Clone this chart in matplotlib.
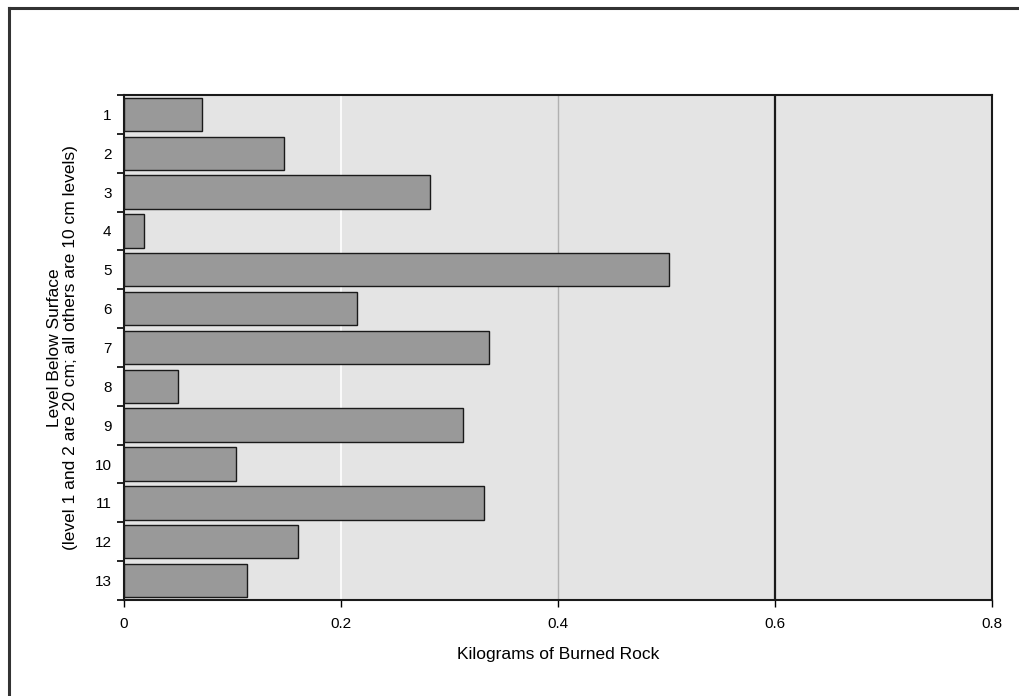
import numpy as np
import matplotlib.pyplot as plt
from matplotlib.lines import Line2D

plt.rcParams['font.family'] = ['Liberation Sans', 'DejaVu Sans']

# Data
levels = ['1', '2', '3', '4', '5', '6', '7', '8', '9', '10', '11', '12', '13']
burned_rock_kg = [0.072, 0.147, 0.282, 0.018, 0.502, 0.215, 0.336, 0.050,
                  0.312, 0.103, 0.332, 0.160, 0.113]
x_ticks = [0, 0.2, 0.4, 0.6, 0.8]
x_tick_labels = ['0', '0.2', '0.4', '0.6', '0.8']

fig = plt.figure(figsize=(10.2, 6.96), dpi=100)
ax = fig.add_axes([0.1216, 0.138, 0.8509, 0.7255])
ax.set_facecolor('#e4e4e4')

# Border around the figure (only top and left visible)
fig.add_artist(Line2D([0.009, 0.009], [0.0, 0.989], transform=fig.transFigure,
                      color='#333333', lw=2.2))
fig.add_artist(Line2D([0.009, 1.0], [0.989, 0.989], transform=fig.transFigure,
                      color='#333333', lw=2.2))

y = np.arange(len(levels))
ax.barh(y, burned_rock_kg, height=0.86, color='#999999',
        edgecolor='#1a1a1a', linewidth=1.0, zorder=3)

# Vertical reference lines
ax.axvline(0.2, color='white', lw=1.2, zorder=1)
ax.axvline(0.4, color='#b0b0b0', lw=1.0, zorder=1)
ax.axvline(0.6, color='#1a1a1a', lw=1.6, zorder=2)

ax.set_xlim(0, 0.8)
ax.set_ylim(len(levels) - 0.5, -0.5)
ax.set_xticks(x_ticks)
ax.set_xticklabels(x_tick_labels, fontsize=11)
ax.set_yticks(y)
ax.set_yticklabels(levels, fontsize=11)
ax.tick_params(axis='y', length=0, pad=9)
ax.set_yticks(np.arange(len(levels) + 1) - 0.5, minor=True)
ax.tick_params(axis='y', which='minor', length=5, width=1.2, direction='out')
ax.tick_params(axis='x', length=5, width=1, direction='out', pad=7)

for s in ax.spines.values():
    s.set_color('#1a1a1a')
    s.set_linewidth(1.5)

ax.set_xlabel('Kilograms of Burned Rock', fontsize=12.5, labelpad=12)
ax.set_ylabel('Level Below Surface\n(level 1 and 2 are 20 cm; all others are 10 cm levels)',
              fontsize=12.5, labelpad=12, linespacing=1.05)

fig.savefig('out.png', dpi=100)
